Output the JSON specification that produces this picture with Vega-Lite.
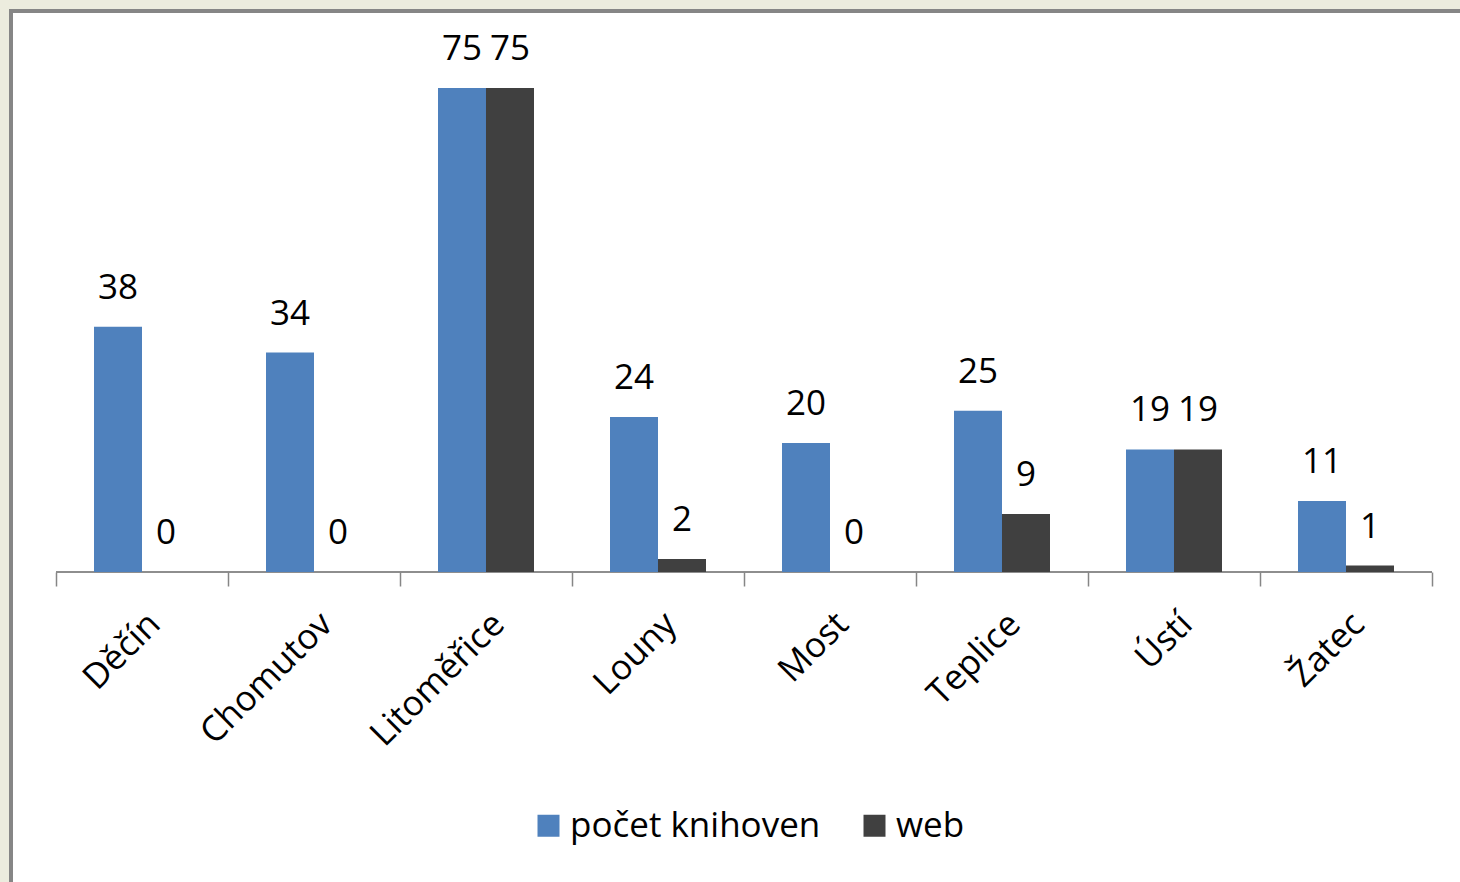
{
  "$schema": "https://vega.github.io/schema/vega-lite/v6.json",
  "width": 1460,
  "height": 880,
  "autosize": {"type": "none"},
  "padding": {"left": 11, "top": 11, "right": 0, "bottom": 0},
  "background": "#ECECDE",
  "config": {
    "view": {"fill": "white", "stroke": "#868686", "strokeWidth": 4},
    "font": "Open Sans"
  },
  "data": {
    "values": [
      {"okres": "Děčín", "series": "počet knihoven", "value": 38},
      {"okres": "Děčín", "series": "web", "value": 0},
      {"okres": "Chomutov", "series": "počet knihoven", "value": 34},
      {"okres": "Chomutov", "series": "web", "value": 0},
      {"okres": "Litoměřice", "series": "počet knihoven", "value": 75},
      {"okres": "Litoměřice", "series": "web", "value": 75},
      {"okres": "Louny", "series": "počet knihoven", "value": 24},
      {"okres": "Louny", "series": "web", "value": 2},
      {"okres": "Most", "series": "počet knihoven", "value": 20},
      {"okres": "Most", "series": "web", "value": 0},
      {"okres": "Teplice", "series": "počet knihoven", "value": 25},
      {"okres": "Teplice", "series": "web", "value": 9},
      {"okres": "Ústí", "series": "počet knihoven", "value": 19},
      {"okres": "Ústí", "series": "web", "value": 19},
      {"okres": "Žatec", "series": "počet knihoven", "value": 11},
      {"okres": "Žatec", "series": "web", "value": 1}
    ]
  },
  "encoding": {
    "x": {
      "field": "okres",
      "type": "nominal",
      "sort": null,
      "title": null,
      "scale": {"paddingInner": 0, "paddingOuter": 0.2442, "align": 0.5357},
      "axis": {
        "orient": "bottom",
        "offset": -319,
        "domain": false,
        "ticks": true,
        "tickBand": "extent",
        "tickColor": "#868686",
        "tickWidth": 1.5,
        "tickSize": 14,
        "labelAngle": -45,
        "labelFont": "Open Sans",
        "labelFontSize": 35,
        "labelColor": "#000000",
        "labelPadding": 20,
        "labelDx": 8,
        "grid": false
      }
    }
  },
  "layer": [
    {
      "mark": {"type": "bar", "fill": null, "stroke": "#868686", "strokeWidth": 1.5},
      "encoding": {
        "y": {"datum": 0, "type": "quantitative", "scale": {"domain": [-49.43, 86.93], "nice": false, "zero": false}, "axis": null},
        "y2": {"datum": 0}
      }
    },
    {
      "mark": {"type": "bar"},
      "encoding": {
        "xOffset": {"field": "series", "type": "nominal", "sort": ["počet knihoven", "web"], "scale": {"paddingInner": 0, "paddingOuter": 0.7917}},
        "y": {"field": "value", "type": "quantitative", "axis": null},
        "y2": {"datum": 0},
        "color": {
          "field": "series",
          "type": "nominal",
          "sort": ["počet knihoven", "web"],
          "scale": {"domain": ["počet knihoven", "web"], "range": ["#4F81BD", "#404040"]},
          "legend": {
            "title": null,
            "orient": "none",
            "direction": "horizontal",
            "legendX": 520,
            "legendY": 797,
            "padding": 0,
            "symbolType": "square",
            "symbolSize": 484,
            "symbolStrokeWidth": 0,
            "symbolOpacity": 1,
            "labelFont": "Open Sans",
            "labelFontSize": 35,
            "labelColor": "#000000",
            "labelOffset": 4,
            "columnPadding": 36,
            "labelLimit": 400
          }
        }
      }
    },
    {
      "mark": {"type": "text", "baseline": "alphabetic", "align": "center", "dy": -28, "fontSize": 35, "font": "Open Sans", "color": "#000000"},
      "encoding": {
        "xOffset": {"field": "series", "type": "nominal", "sort": ["počet knihoven", "web"]},
        "y": {"field": "value", "type": "quantitative"},
        "text": {"field": "value", "type": "quantitative"}
      }
    }
  ],
  "resolve": {"scale": {"y": "shared"}}
}
